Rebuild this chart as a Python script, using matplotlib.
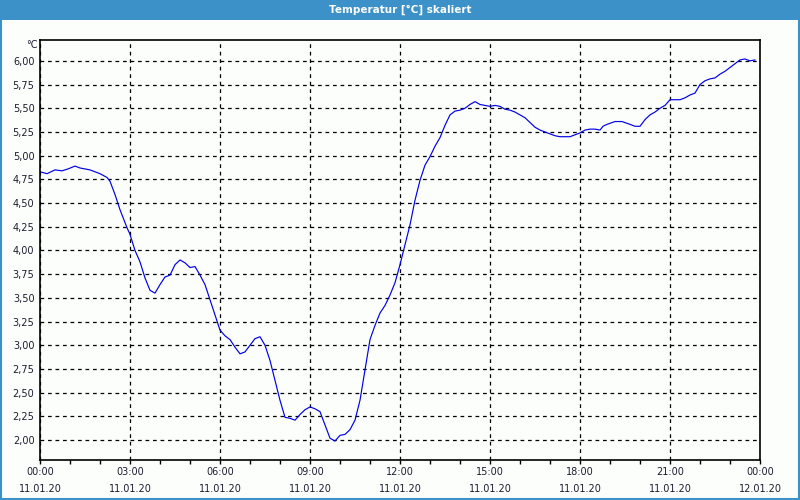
import matplotlib.pyplot as plt
from matplotlib.patches import Rectangle
from matplotlib.ticker import FixedLocator, MultipleLocator, FuncFormatter

# minutes since 11.01.20 00:00 and temperature in degC
minutes = [
    0, 14, 30, 44, 56, 70, 80, 100, 120, 134, 140, 150, 160, 174,
    180, 190, 200, 210, 220, 230, 240, 250, 260, 270,
    280, 290, 300, 310, 320, 330, 340, 350, 360, 370,
    380, 390, 400, 410, 420, 430, 440, 450, 460, 470,
    480, 490, 500, 510, 520, 530, 540, 550, 560, 570,
    580, 590, 600, 610, 620, 630, 640, 650, 660, 670,
    680, 690, 700, 710, 720, 730, 740, 750, 760, 770,
    780, 790, 800, 810, 820, 830, 840, 850, 860, 870,
    880, 890, 900, 910, 920, 930, 940, 950, 960, 970,
    980, 990, 1000, 1010, 1020, 1030, 1040, 1050, 1060, 1070,
    1080, 1090, 1100, 1110, 1120,
    1126, 1134, 1150, 1164, 1180, 1190, 1200,
    1210, 1220, 1230, 1240, 1250, 1260,
    1280, 1290, 1300, 1310, 1320, 1330, 1340, 1350,
    1360, 1370, 1380, 1390, 1400, 1410, 1420, 1430,
]
temps = [
    4.83, 4.81, 4.85, 4.84, 4.86, 4.89, 4.87, 4.85, 4.81, 4.77, 4.73, 4.59, 4.43, 4.24,
    4.17, 4.00, 3.88, 3.71, 3.58, 3.55, 3.64, 3.72, 3.74, 3.85,
    3.90, 3.87, 3.82, 3.83, 3.74, 3.64, 3.48, 3.32, 3.16, 3.10,
    3.06, 2.98, 2.91, 2.93, 3.00, 3.07, 3.09, 3.00, 2.84, 2.63,
    2.42, 2.24, 2.23, 2.21, 2.27, 2.32, 2.35, 2.33, 2.30, 2.16,
    2.02, 1.99, 2.05, 2.06, 2.11, 2.21, 2.42, 2.74, 3.06, 3.21,
    3.34, 3.42, 3.53, 3.66, 3.85, 4.06, 4.27, 4.53, 4.74, 4.90,
    4.99, 5.10, 5.19, 5.32, 5.43, 5.47, 5.48, 5.50, 5.54, 5.57,
    5.54, 5.53, 5.52, 5.53, 5.52, 5.49, 5.48, 5.46, 5.43, 5.40,
    5.35, 5.30, 5.27, 5.25, 5.23, 5.21, 5.20, 5.20, 5.20, 5.22,
    5.24, 5.27, 5.28, 5.28, 5.27,
    5.31, 5.33, 5.36, 5.36, 5.33, 5.31, 5.31,
    5.38, 5.43, 5.46, 5.50, 5.53, 5.59,
    5.59, 5.61, 5.64, 5.66, 5.75, 5.79, 5.81, 5.82,
    5.86, 5.89, 5.93, 5.97, 6.01, 6.02, 6.00, 6.01,
]
tick_hours = [0, 3, 6, 9, 12, 15, 18, 21, 24]
tick_labels = [
    "00:00\n11.01.20", "03:00\n11.01.20", "06:00\n11.01.20",
    "09:00\n11.01.20", "12:00\n11.01.20", "15:00\n11.01.20",
    "18:00\n11.01.20", "21:00\n11.01.20", "00:00\n12.01.20",
]
y_ticks = [2.00, 2.25, 2.50, 2.75, 3.00, 3.25, 3.50, 3.75, 4.00,
           4.25, 4.50, 4.75, 5.00, 5.25, 5.50, 5.75, 6.00]

bar_blue = "#3c91c8"
text_col = "#1c1c30"
bg = "#fcfefc"

hours = [m / 60 for m in minutes]

fig = plt.figure(figsize=(8, 5), dpi=100)
fig.patch.set_facecolor(bg)

# title bar and window frame
fig.patches.append(Rectangle((0, 0.96), 1, 0.04, transform=fig.transFigure,
                             facecolor=bar_blue, edgecolor="none", zorder=0))
fig.patches.append(Rectangle((0.001, 0.002), 0.998, 0.996, transform=fig.transFigure,
                             facecolor="none", edgecolor=bar_blue, linewidth=1.5, zorder=5))
fig.text(0.5, 0.98, "Temperatur [°C] skaliert", color="white", ha="center",
         va="center", fontsize=7.5, fontweight="bold")

ax = fig.add_axes([0.05, 0.08, 0.90, 0.84])
ax.set_facecolor(bg)
ax.plot(hours, temps, color="#0000e6", linewidth=0.85)

ax.set_xlim(0, 24)
ax.set_ylim(1.79, 6.22)

ax.xaxis.set_major_locator(FixedLocator(tick_hours))
ax.xaxis.set_minor_locator(MultipleLocator(1))
ax.set_xticklabels(tick_labels, linespacing=1.9)
ax.yaxis.set_major_locator(FixedLocator(y_ticks))
ax.yaxis.set_major_formatter(FuncFormatter(lambda v, p: f"{v:.2f}".replace(".", ",")))

ax.tick_params(axis="x", which="major", length=3, width=1, color="black",
               labelsize=7, labelcolor=text_col, pad=2)
ax.tick_params(axis="x", which="minor", length=3, width=1, color="black")
ax.tick_params(axis="y", length=0, labelsize=7, labelcolor=text_col, pad=4)

ax.grid(True, which="major", color="black", linestyle=(0, (3, 3)), linewidth=0.9)
for s in ax.spines.values():
    s.set_color("black")
    s.set_linewidth(1.2)

ax.text(-0.003, 1.0, "°C", transform=ax.transAxes, ha="right", va="top",
        fontsize=7, color=text_col)

fig.savefig("out.png", dpi=100, facecolor=fig.get_facecolor())
